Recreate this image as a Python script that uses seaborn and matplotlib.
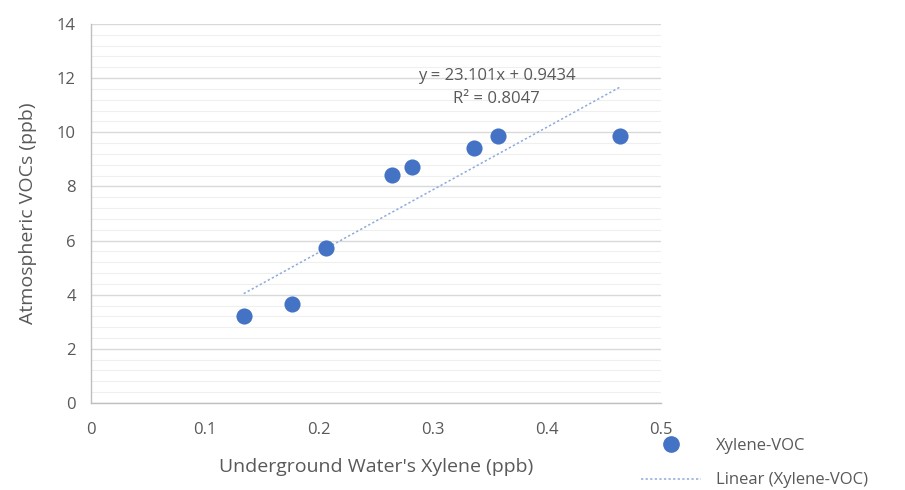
import numpy as np
import matplotlib
matplotlib.use("Agg")
import matplotlib.pyplot as plt
from matplotlib.lines import Line2D
from matplotlib.ticker import MultipleLocator
import seaborn as sns

# data
water_xylene = [0.134, 0.176, 0.206, 0.264, 0.282, 0.336, 0.357, 0.464]
atmos_voc = [3.21, 3.66, 5.73, 8.42, 8.72, 9.42, 9.86, 9.86]
slope = 23.101
intercept = 0.9434
r2 = 0.8047

sns.set_style("white")
plt.rcParams['font.family'] = ['Open Sans', 'DejaVu Sans']
txt = '#595959'
blue = '#4472C4'

fig = plt.figure(figsize=(9.05, 4.90), dpi=100)
ax = fig.add_axes([0.1006, 0.1776, 0.6294, 0.7734])

sns.scatterplot(x=water_xylene, y=atmos_voc, ax=ax, color=blue, s=135,
                edgecolor=blue, linewidth=0, zorder=3)

xs = np.array([min(water_xylene), max(water_xylene)])
ax.plot(xs, slope * xs + intercept, color='#8faadc', lw=1.1,
        ls=(0, (1.5, 1.5)), zorder=2)

ax.set_xlim(0, 0.5)
ax.set_ylim(0, 14)
ax.yaxis.set_major_locator(MultipleLocator(2))
ax.yaxis.set_minor_locator(MultipleLocator(0.4))
ax.set_xticks([0, 0.1, 0.2, 0.3, 0.4, 0.5])
ax.set_xticklabels(['0', '0.1', '0.2', '0.3', '0.4', '0.5'])
ax.grid(axis='y', which='major', color='#d9d9d9', lw=1)
ax.grid(axis='y', which='minor', color='#efefef', lw=0.8)
ax.set_axisbelow(True)

for s in ['top', 'right']:
    ax.spines[s].set_visible(False)
for s in ['left', 'bottom']:
    ax.spines[s].set_color('#bfbfbf')
    ax.spines[s].set_linewidth(1)
ax.tick_params(axis='both', which='major', direction='out', length=5,
               color='#bfbfbf', labelcolor=txt, labelsize=12, pad=6)
ax.tick_params(axis='y', which='minor', length=0)
ax.tick_params(axis='x', pad=9)

ax.set_xlabel("Underground Water's Xylene (ppb)", fontsize=14, color=txt, labelpad=14)
ax.set_ylabel("Atmospheric VOCs (ppb)", fontsize=14, color=txt, labelpad=14)

ax.text(0.356, 11.66, f"y = {slope}x + {intercept}\nR² = {r2}", ha='center',
        va='center', fontsize=12, color=txt, linespacing=1.6)

handles = [Line2D([], [], marker='o', ls='none', color=blue, markersize=11),
           Line2D([], [], color='#8faadc', lw=1.1, ls=(0, (1.5, 1.5)))]
fig.legend(handles, ['Xylene-VOC', 'Linear (Xylene-VOC)'], loc='upper left',
           bbox_to_anchor=(0.699, 0.123), frameon=False, fontsize=12,
           labelcolor=txt, handlelength=3.6, handletextpad=0.9, labelspacing=1.1,
           borderpad=0)

fig.savefig('out.png', dpi=100)
